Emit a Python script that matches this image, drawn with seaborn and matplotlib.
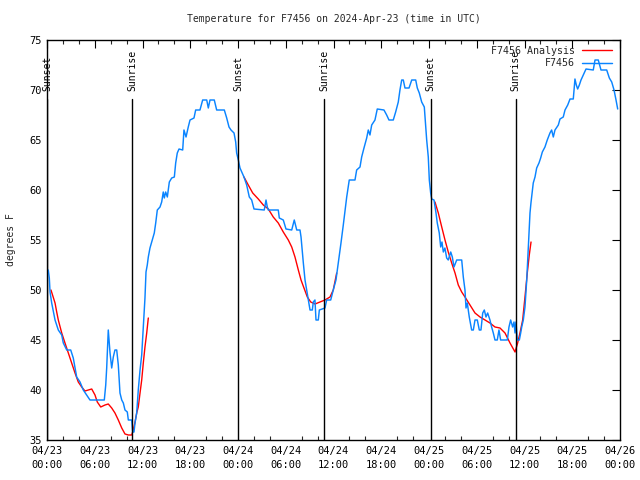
import numpy as np
import pandas as pd
import matplotlib
matplotlib.use("Agg")
import matplotlib.pyplot as plt
import matplotlib.dates as mdates
import matplotlib.transforms as mtransforms
from matplotlib.lines import Line2D
from matplotlib.ticker import MultipleLocator
import seaborn as sns

# ---------------- data ----------------
start = pd.Timestamp("2024-04-23 00:00")

obs_hours = [0.16, 0.29, 0.38, 0.59, 1.01, 1.42, 1.85, 2.05, 2.48, 2.98, 3.30, 3.73, 4.15, 4.56,
             5.40, 7.20, 7.38, 7.50, 7.70, 7.79, 7.92, 8.13, 8.33, 8.54, 8.76, 8.96, 9.17, 9.39,
             9.59, 9.80, 10.09, 10.22, 10.64, 10.77, 10.93, 11.06, 11.27, 11.47, 11.69, 11.90,
             12.10, 12.31, 12.44, 12.60, 12.73, 12.94, 13.23, 13.48, 13.66, 13.86, 14.20, 14.41,
             14.61, 14.74, 14.91, 15.12, 15.37, 15.67, 16.00, 16.17, 16.37, 16.59, 17.05, 17.21,
             17.47, 17.75, 17.97, 18.47, 18.68, 19.22, 19.56, 20.07, 20.27, 20.48, 21.02, 21.32,
             22.28, 22.58, 22.87, 23.12, 23.50, 23.71, 23.83, 24.04, 24.25, 24.75, 25.09, 25.42,
             25.72, 26.01, 27.30, 27.52, 27.68, 27.81, 29.06, 29.19, 29.69, 30.03, 30.75, 31.07,
             31.38, 31.79, 31.92, 32.21, 32.42, 32.63, 33.05, 33.34, 33.46, 33.67, 33.80, 34.09,
             34.22, 34.93, 35.14, 35.65, 35.97, 36.31, 36.60, 36.94, 37.23, 37.66, 37.98, 38.70,
             38.91, 39.33, 39.54, 39.83, 40.17, 40.37, 40.58, 40.80, 41.21, 41.50, 42.34, 42.68,
             42.97, 43.51, 43.81, 44.14, 44.35, 44.57, 44.77, 44.98, 45.49, 45.83, 46.33, 46.53,
             46.78, 47.08, 47.41, 47.71, 47.91, 48.04, 48.21, 48.34, 48.63, 48.88, 49.04, 49.29,
             49.47, 49.63, 49.80, 50.00, 50.22, 50.42, 50.73, 50.93, 51.14, 51.48, 52.11, 52.31,
             52.52, 52.65, 52.81, 53.06, 53.36, 53.57, 53.78, 54.07, 54.32, 54.53, 54.75, 54.95,
             55.16, 55.37, 55.66, 55.87, 56.08, 56.29, 56.58, 56.79, 57.00, 57.84, 58.05, 58.26,
             58.51, 58.68, 58.81, 58.93, 59.10, 59.35, 59.52, 59.65, 59.85, 60.06, 60.28, 60.48,
             60.69, 60.81, 61.10, 61.32, 61.53, 61.82, 62.03, 62.24, 62.57, 62.86, 63.20, 63.41,
             63.62, 63.83, 64.25, 64.46, 64.87, 65.09, 65.43, 65.72, 66.13, 66.22, 66.34, 66.51,
             66.68, 66.89, 67.10, 67.39, 67.73, 68.64, 68.86, 69.27, 69.61, 70.33, 70.66, 70.96,
             71.25, 71.50, 71.71]
obs_temp = [52, 51.2, 49.8, 48.7, 47, 46, 45.5, 44.7, 44, 44, 43.2, 41.3, 40.8, 40,
            39, 39, 40.5, 42.2, 46, 45, 43.7, 42.2, 43.3, 44, 44, 42.5, 39.7, 39,
            38.7, 38, 37.8, 37, 37, 35.8, 35.8, 36.7, 37.7, 40, 42, 43.5,
            46.3, 49.2, 51.8, 52.5, 53.3, 54.2, 55, 55.7, 56.7, 58, 58.3, 58.8,
            59.8, 59.2, 59.8, 59.3, 60.8, 61.2, 61.3, 62.7, 63.7, 64.1, 64, 66,
            65.3, 66.3, 67, 67.2, 68, 68, 69, 69, 68.2, 69, 69, 68,
            68, 67.2, 66.3, 66, 65.7, 64.8, 63.7, 63, 62.2, 61.3, 60.5, 59.3,
            59, 58.1, 58, 59, 58.3, 58, 58, 57.2, 57, 56.1, 56, 57,
            56, 56, 55.3, 52.7, 51, 50, 48, 48, 48.8, 49, 47, 47,
            48, 48.2, 49, 49, 50, 51, 52.7, 54.7, 56.5, 59.3, 61, 61,
            62, 62.3, 63.3, 64.2, 65.2, 66, 65.5, 66.5, 67, 68.1, 68, 67.5,
            67, 67, 67.8, 68.8, 70, 71, 71, 70.2, 70.2, 71, 71, 70.2,
            69.7, 68.8, 68.3, 65, 63.3, 61, 59.7, 59.1, 59, 57.7, 56.7, 55.7,
            54.3, 54.8, 53.8, 54.2, 53.2, 53, 53.8, 53.3, 52.3, 53, 53, 51.3,
            50, 48.2, 48.7, 47.3, 46, 46, 47, 47, 46, 46, 47.7, 48,
            47.3, 47.7, 47, 46.3, 45.7, 45, 45, 46, 45, 45, 46.3, 47,
            46.3, 46.8, 45.7, 46.8, 45, 45, 45.7, 46.3, 47, 48.3, 51, 54.3,
            57.7, 58.7, 60.7, 61.3, 62.2, 62.7, 63.2, 63.8, 64.3, 65, 65.7, 66,
            65.3, 66, 66.5, 67.1, 67.3, 68, 68.5, 69.1, 69.1, 70, 71.1, 70.5,
            70.1, 70.5, 71, 71.5, 72.1, 72, 73, 73, 72, 72, 71.2, 70.8,
            70, 69, 68.1]

ana_hours = [0.50, 1.01, 1.22, 1.42, 1.85, 2.26, 2.68, 3.10, 3.52, 3.93, 4.36, 4.77, 5.19, 5.62,
             6.03, 6.32, 6.75, 7.29, 7.70, 8.13, 8.54, 8.96, 9.39, 9.80, 10.22, 10.64, 10.84,
             11.06, 11.27, 11.47, 11.69, 11.90, 12.10, 12.31, 12.53, 12.73,
             24.75, 25.29, 25.85, 26.55, 27.18, 27.81, 28.43, 29.06, 29.69, 30.32, 30.75, 31.16,
             31.58, 31.92, 32.29, 32.71, 33.14, 33.68, 34.30, 34.93, 35.56, 35.97, 36.40,
             48.75, 49.17, 49.60, 50.01, 50.42, 50.85, 51.27, 51.68, 52.11, 52.52, 53.15, 53.78,
             54.41, 55.04, 55.66, 56.29, 56.92, 57.55, 58.18, 58.81, 59.14, 59.43, 59.77, 60.06,
             60.35, 60.60, 60.82]
ana_temp = [50.0, 48.7, 47.8, 47, 45.7, 44.7, 43.7, 42.7, 41.7, 40.8, 40.3, 39.9, 40, 40.1,
            39.5, 38.8, 38.3, 38.5, 38.6, 38.2, 37.7, 37, 36.2, 35.6, 35.5, 35.5, 36,
            36.8, 37.7, 38.3, 39.7, 41, 42.7, 44.3, 45.7, 47.2,
            61.3, 60.5, 59.7, 59.1, 58.5, 58.1, 57.3, 56.7, 55.8, 55, 54.3, 53.3,
            52, 51, 50.2, 49.3, 48.8, 48.6, 48.8, 49, 49.3, 50, 51.7,
            58.8, 57.7, 56.3, 55, 53.8, 52.7, 51.7, 50.5, 49.8, 49.3, 48.5, 47.7,
            47.3, 47, 46.7, 46.3, 46.2, 45.7, 44.7, 43.8, 44.7, 45.7, 47, 49.3,
            51.7, 53.5, 54.8]
ana_run = [1] * 36 + [2] * 23 + [3] * 27

sunset_hours = [0.02, 24.05, 48.2]
sunrise_hours = [10.72, 34.84, 58.89]

title = "Temperature for F7456 on 2024-Apr-23 (time in UTC)"
ylabel = "degrees F"
series_names = ["F7456 Analysis", "F7456"]

# ---------------- frames ----------------
obs = pd.DataFrame({"time": start + pd.to_timedelta(obs_hours, unit="h"), "temp": obs_temp})
ana = pd.DataFrame({"time": start + pd.to_timedelta(ana_hours, unit="h"), "temp": ana_temp,
                    "run": ana_run})

# ---------------- style ----------------
sns.set_theme(style="white")
plt.rcParams["font.family"] = ["DejaVu Sans Mono", "DejaVu Sans"]
plt.rcParams["font.size"] = 7

RED = "#ff0000"
BLUE = "#0a84ff"

fig = plt.figure(figsize=(6.4, 4.8), dpi=100)
ax = fig.add_axes([47 / 640, 1 - 440 / 480, 573 / 640, 400 / 480])

sns.lineplot(data=ana, x="time", y="temp", units="run", estimator=None, color=RED,
             linewidth=1.0, ax=ax, legend=False, zorder=2)
sns.lineplot(data=obs, x="time", y="temp", estimator=None, color=BLUE,
             linewidth=1.05, ax=ax, legend=False, zorder=3)

# sunrise / sunset markers
trans = mtransforms.blended_transform_factory(ax.transData, ax.transAxes)
for hs, lab in [(sunset_hours, "Sunset"), (sunrise_hours, "Sunrise")]:
    for h in hs:
        t = mdates.date2num(start + pd.Timedelta(hours=h))
        ax.plot([t, t], [0, 0.8525], transform=trans, color="black", lw=1.0, zorder=4)
        ax.text(t, 0.872, lab, transform=trans, rotation=90, ha="center", va="bottom",
                fontsize=7, color="black", zorder=5)

ax.set_xlim(start, start + pd.Timedelta(hours=72))
ax.set_ylim(35, 75)
ax.yaxis.set_major_locator(MultipleLocator(5))
ax.xaxis.set_major_locator(mdates.HourLocator(byhour=[0, 6, 12, 18]))
ax.xaxis.set_minor_locator(mdates.HourLocator(byhour=list(range(0, 24, 2))))
ax.xaxis.set_major_formatter(mdates.DateFormatter("%m/%d\n%H:%M"))

ax.tick_params(axis="both", which="major", direction="in", length=5.5, width=0.8,
               top=True, right=True, labelsize=7.5, colors="black", pad=4)
ax.tick_params(axis="x", which="minor", direction="in", length=3, width=0.8,
               top=True, bottom=True)
for lab in ax.get_xticklabels():
    lab.set_linespacing(1.5)
for sp in ax.spines.values():
    sp.set_color("black")
    sp.set_linewidth(1.0)

ax.set_xlabel("")
ax.set_ylabel(ylabel, fontsize=7)
ax.yaxis.set_label_coords(-31 / 573, 0.5)
ax.set_title(title, fontsize=7, pad=13)

handles = [Line2D([], [], color=RED, lw=1.0), Line2D([], [], color=BLUE, lw=1.05)]
fig.legend(handles, series_names, loc="upper right", bbox_to_anchor=(612 / 640, 1 - 45.5 / 480),
           frameon=False, markerfirst=False, handlelength=3.0, handletextpad=0.7,
           labelspacing=0.3, borderpad=0, borderaxespad=0, fontsize=7.2)

fig.savefig("out.png", dpi=100)
